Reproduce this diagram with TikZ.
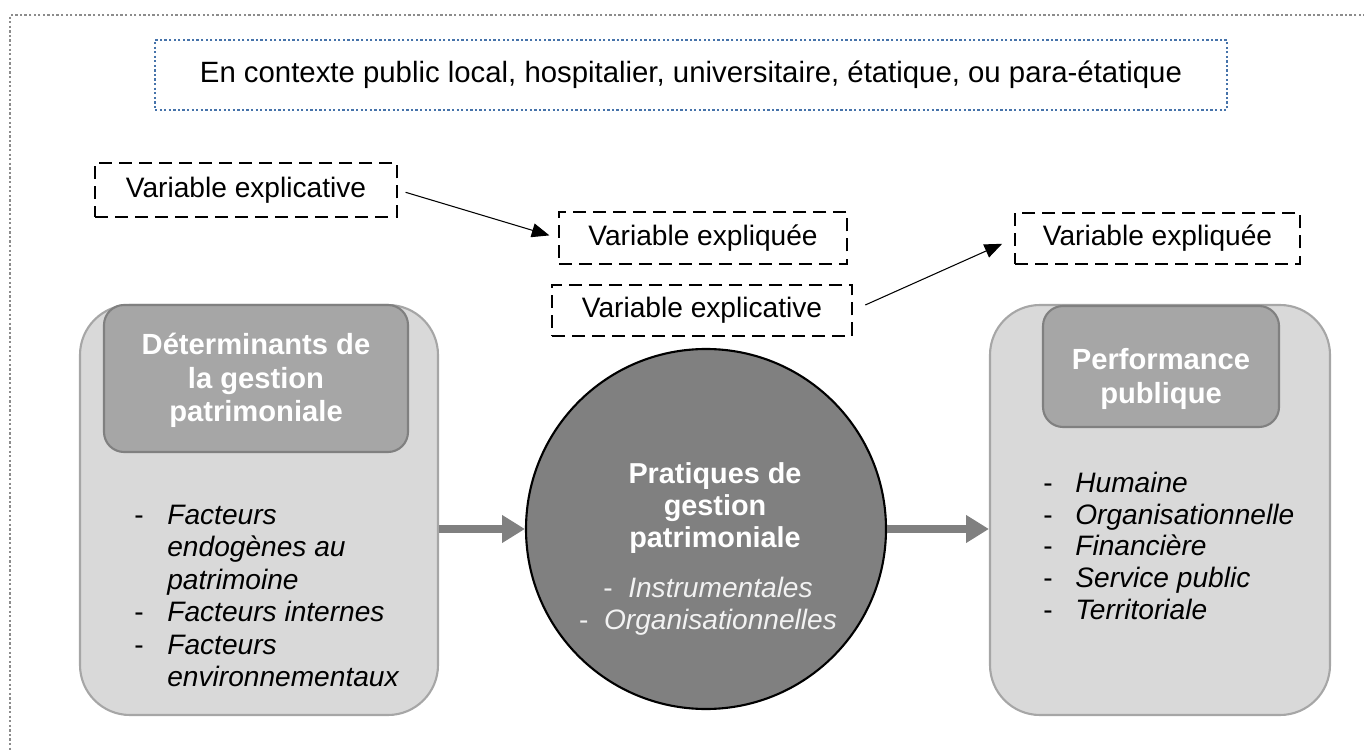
\documentclass[tikz,border=0pt]{standalone}
\usepackage{fontspec}
\setmainfont{Liberation Sans}
\usepackage{xcolor}
\usetikzlibrary{arrows.meta,positioning,shapes.geometric}
\definecolor{FrameGray}{RGB}{140,140,140}
\definecolor{CtxBlue}{RGB}{70,115,170}
\definecolor{BoxGray}{RGB}{217,217,217}
\definecolor{BoxLine}{RGB}{166,166,166}
\definecolor{TitleGray}{RGB}{166,166,166}
\definecolor{TitleLine}{RGB}{128,128,128}
\definecolor{CoreGray}{RGB}{128,128,128}
\definecolor{SoftWhite}{RGB}{242,242,242}
\newcommand{\txtsize}{\fontsize{16}{18.5}\selectfont}

\begin{document}
\begin{tikzpicture}[
 frame/.style={draw=FrameGray, line width=1.2pt, dash pattern=on 1.3pt off 1.3pt},
 ctx/.style={draw=CtxBlue, line width=1.2pt, dash pattern=on 1.3pt off 1.3pt, minimum width=21.44cm, minimum height=1.4cm, font=\fontsize{16.7}{19}\selectfont},
 var/.style={draw, line width=1.1pt, dash pattern=on 7.4pt off 4pt, minimum height=1.04cm, font=\txtsize},
 bigbox/.style={draw=BoxLine, line width=1.2pt, fill=BoxGray, rounded corners=1cm, minimum height=8.2cm},
 titlebox/.style={draw=TitleLine, line width=1.2pt, fill=TitleGray, rounded corners=0.4cm},
 titletext/.style={align=center, text=white, font=\fontsize{16.6}{19}\selectfont\bfseries},
 core/.style={circle, draw, line width=1.2pt, fill=CoreGray, minimum size=7.2cm},
 list/.style={inner sep=0pt, font=\txtsize},
 arr/.style={-{Triangle[length=10pt,width=8pt]}, line width=0.6pt},
 bigarr/.style={-{Triangle[length=13pt,width=15pt]}, draw=CoreGray, line width=4pt}
]
\useasboundingbox (0,0) rectangle (27.28,-15.02);
\draw[frame] (27.4,-0.3) -- (0.2,-0.3) -- (0.2,-15.1);

\node[ctx] (context) at (13.82,-1.5) {En contexte public local, hospitalier, universitaire, étatique, ou para-étatique};

\node[var, minimum width=6.04cm, minimum height=1.08cm] (explic1) at (4.92,-3.8) {Variable explicative};
\node[var, minimum width=5.76cm] (expliq1) at (14.06,-4.76) {Variable expliquée};
\node[var, minimum width=6.0cm, minimum height=1.02cm] (explic2) at (14.04,-6.21) {Variable explicative};
\node[var, minimum width=5.7cm, minimum height=1.02cm] (expliq2) at (23.15,-4.77) {Variable expliquée};

\node[bigbox, minimum width=7.16cm] (leftbox) at (5.18,-10.2) {};
\node[titlebox, minimum width=6.08cm, minimum height=2.94cm] (lefttitle) at (5.12,-7.57) {};
\node[titletext] (lefttitletext) at (5.12,-7.61) {Déterminants de\\la gestion\\patrimoniale};
\node[list, anchor=west] (leftlist) at (2.68,-11.98) {\begin{tabular}{@{}p{0.66cm}@{}l@{}}
-&\textit{Facteurs}\\
&\textit{endogènes au}\\
&\textit{patrimoine}\\
-&\textit{Facteurs internes}\\
-&\textit{Facteurs}\\
&\textit{environnementaux}
\end{tabular}};

\node[core] (practice) at (14.12,-10.58) {};
\node[titletext, font=\fontsize{16.4}{18.2}\selectfont\bfseries] (practicetext) at (14.3,-10.16) {Pratiques de\\gestion\\patrimoniale};
\node[list, align=center, text=SoftWhite, font=\fontsize{16}{18.2}\selectfont] (practicelist) at (14.16,-12.12) {-\ \ \textit{Instrumentales}\\-\ \ \textit{Organisationnelles}};

\node[bigbox, minimum width=6.8cm] (rightbox) at (23.2,-10.2) {};
\node[titlebox, minimum width=4.72cm, minimum height=2.42cm] (righttitle) at (23.22,-7.33) {};
\node[titletext] (righttitletext) at (23.22,-7.58) {Performance\\publique};
\node[list, anchor=west, font=\fontsize{16}{18}\selectfont] (rightlist) at (20.86,-10.99) {\begin{tabular}{@{}p{0.64cm}@{}l@{}}
-&\textit{Humaine}\\
-&\textit{Organisationnelle}\\
-&\textit{Financière}\\
-&\textit{Service public}\\
-&\textit{Territoriale}
\end{tabular}};

\draw[arr, shorten <=0.16cm, shorten >=0.18cm] (explic1.east) -- (expliq1.west);
\draw[arr, shorten <=0.27cm, shorten >=0.26cm] (explic2.east) -- (expliq2.west);
\draw[bigarr] (leftbox.east |- practice.west) -- (practice.west);
\draw[bigarr] (practice.east) -- (rightbox.west |- practice.east);
\end{tikzpicture}
\end{document}
